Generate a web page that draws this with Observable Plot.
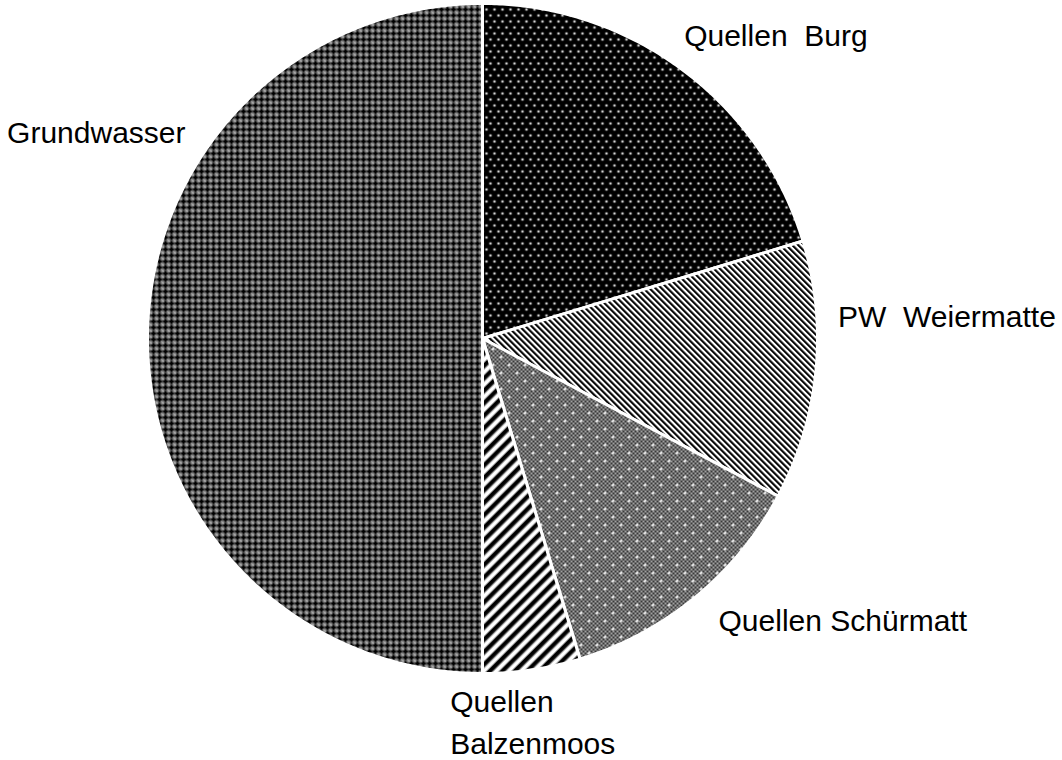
<!DOCTYPE html>
<html><head><meta charset="utf-8">
<script src="https://cdn.jsdelivr.net/npm/d3@7"></script>
<script src="https://cdn.jsdelivr.net/npm/@observablehq/plot@0.6"></script>
<style>
body{margin:0;background:#fff}
svg text{white-space:pre}
</style>
</head><body>
<svg width="0" height="0" style="position:absolute">
<defs>
 <pattern id="pBurg" width="8" height="12" patternUnits="userSpaceOnUse">
  <rect width="8" height="12" fill="#000"/>
  <circle cx="2" cy="3" r="1.35" fill="#c8c8c8"/>
  <circle cx="6" cy="9" r="1.35" fill="#c8c8c8"/>
  <circle cx="2" cy="3" r="0.6" fill="#fff"/>
  <circle cx="6" cy="9" r="0.6" fill="#fff"/>
 </pattern>
 <pattern id="pWeier" width="4.24" height="4.24" patternUnits="userSpaceOnUse" patternTransform="rotate(-45)">
  <rect width="4.24" height="4.24" fill="#fff"/>
  <rect x="0" width="2.1" height="4.24" fill="#000"/>
 </pattern>
 <pattern id="pSchuer" width="16" height="16" patternUnits="userSpaceOnUse">
  <rect width="16" height="16" fill="#a0a0a0"/>
  <g fill="#3a3a3a">
   <rect x="0" y="0" width="2" height="2"/><rect x="4" y="0" width="2" height="2"/><rect x="8" y="0" width="2" height="2"/><rect x="12" y="0" width="2" height="2"/>
   <rect x="2" y="2" width="2" height="2"/><rect x="6" y="2" width="2" height="2"/><rect x="10" y="2" width="2" height="2"/><rect x="14" y="2" width="2" height="2"/>
   <rect x="0" y="4" width="2" height="2"/><rect x="4" y="4" width="2" height="2"/><rect x="8" y="4" width="2" height="2"/><rect x="12" y="4" width="2" height="2"/>
   <rect x="2" y="6" width="2" height="2"/><rect x="6" y="6" width="2" height="2"/><rect x="10" y="6" width="2" height="2"/><rect x="14" y="6" width="2" height="2"/>
   <rect x="0" y="8" width="2" height="2"/><rect x="4" y="8" width="2" height="2"/><rect x="8" y="8" width="2" height="2"/><rect x="12" y="8" width="2" height="2"/>
   <rect x="2" y="10" width="2" height="2"/><rect x="6" y="10" width="2" height="2"/><rect x="10" y="10" width="2" height="2"/><rect x="14" y="10" width="2" height="2"/>
   <rect x="0" y="12" width="2" height="2"/><rect x="4" y="12" width="2" height="2"/><rect x="8" y="12" width="2" height="2"/><rect x="12" y="12" width="2" height="2"/>
   <rect x="2" y="14" width="2" height="2"/><rect x="6" y="14" width="2" height="2"/><rect x="10" y="14" width="2" height="2"/><rect x="14" y="14" width="2" height="2"/>
  </g>
  <g fill="#fff">
   <rect x="3" y="4" width="3" height="1"/><rect x="4" y="3" width="1" height="3"/>
   <rect x="11" y="12" width="3" height="1"/><rect x="12" y="11" width="1" height="3"/>
  </g>
 </pattern>
 <pattern id="pBalzen" width="8.8" height="8.8" patternUnits="userSpaceOnUse" patternTransform="rotate(45)">
  <rect width="8.8" height="8.8" fill="#fff"/>
  <rect x="0" width="3.8" height="8.8" fill="#000"/>
  <rect x="3.8" width="0.7" height="8.8" fill="#777"/>
  <rect x="8.1" width="0.7" height="8.8" fill="#777"/>
 </pattern>
 <pattern id="pGrund" width="6" height="6" patternUnits="userSpaceOnUse">
  <rect width="6" height="6" fill="#7a7a7a"/>
  <rect x="0.5" y="2" width="5" height="2" fill="#000"/>
  <rect x="2" y="0.5" width="2" height="5" fill="#000"/>
  <rect x="0" y="0" width="1" height="1" fill="#f2f2f2"/>
  <rect x="5" y="5" width="1" height="1" fill="#b5b5b5"/>
 </pattern>
</defs>
</svg>
<div id="chart"></div>
<script>
// ---- data ----
const categories = ["Quellen  Burg", "PW  Weiermatte", "Quellen Schürmatt", "Quellen\nBalzenmoos", "Grundwasser"];
const values = [20.3, 12.5, 12.5, 4.7, 50.0];
const patterns = ["url(#pBurg)", "url(#pWeier)", "url(#pSchuer)", "url(#pBalzen)", "url(#pGrund)"];
// label nudges (px) from the slice mid-angle anchor
const labelDx = [70, 91, 122, -87.5, -11];
const labelDy = [-5, -61, -11, 10, -209];
const labelAnchor = ["middle", "middle", "middle", "start", "middle"];

// ---- geometry from data ----
const W = 1062, H = 760, R = 335, CX = 482, CY = 338;
const arcs = d3.pie().sort(null).value(d => d)(values);
const slicePts = [];
arcs.forEach((a, i) => {
  const n = Math.max(2, Math.ceil((a.endAngle - a.startAngle) / (Math.PI / 360)));
  slicePts.push({name: categories[i], x: 0, y: 0});
  for (let k = 0; k <= n; k++) {
    const t = a.startAngle + (a.endAngle - a.startAngle) * k / n;
    slicePts.push({name: categories[i], x: Math.sin(t), y: Math.cos(t)});
  }
  slicePts.push({name: categories[i], x: 0, y: 0});
});
const labels = arcs.map((a, i) => {
  const m = (a.startAngle + a.endAngle) / 2;
  return {name: categories[i], x: 1.12 * Math.sin(m), y: 1.12 * Math.cos(m)};
});

const chart = Plot.plot({
  width: W, height: H,
  margin: 0,
  x: {domain: [-CX / R, (W - CX) / R], axis: null},
  y: {domain: [-(H - CY) / R, CY / R], axis: null},
  color: {domain: categories, range: patterns},
  style: {fontFamily: "Arial, 'Liberation Sans', sans-serif", background: "#fff"},
  marks: [
    Plot.line(slicePts, {x: "x", y: "y", z: "name", fill: "name", stroke: "white", strokeWidth: 3, curve: "linear"}),
    ...labels.map((l, i) => Plot.text([l], {
      x: "x", y: "y", text: "name", dx: labelDx[i], dy: labelDy[i], textAnchor: labelAnchor[i],
      fontSize: 30, fill: "black", lineHeight: 1.4
    }))
  ]
});
document.getElementById("chart").appendChild(chart);
</script>
</body></html>
